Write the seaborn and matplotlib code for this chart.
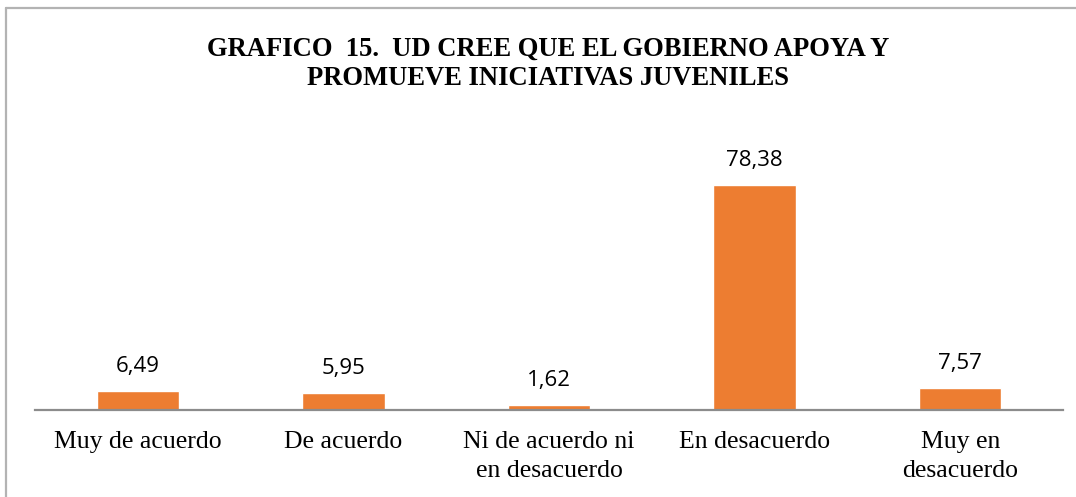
import matplotlib
matplotlib.use("Agg")
import matplotlib.pyplot as plt
import seaborn as sns
import pandas as pd
from matplotlib.lines import Line2D

categories = ["Muy de acuerdo", "De acuerdo", "Ni de acuerdo ni\nen desacuerdo",
              "En desacuerdo", "Muy en\ndesacuerdo"]
values = [6.49, 5.95, 1.62, 78.38, 7.57]
title_text = "GRAFICO  15.  UD CREE QUE EL GOBIERNO APOYA Y\nPROMUEVE INICIATIVAS JUVENILES"

sns.set_theme(style="white")

W, H = 1076, 497
fig = plt.figure(figsize=(W / 100, H / 100), dpi=100)
fig.patch.set_facecolor("white")

ax_left, ax_right = 35, 1063
ax_bottom_px, ax_top_px = 410, 151.7
ax = fig.add_axes([ax_left / W, 1 - ax_bottom_px / H,
                   (ax_right - ax_left) / W, (ax_bottom_px - ax_top_px) / H])

df = pd.DataFrame({"cat": categories, "val": values})
sns.barplot(data=df, x="cat", y="val", color="#ED7D31", saturation=1,
            width=0.40, ax=ax)
ax.set_ylim(0, 90)
ax.set_xlim(-0.5, len(categories) - 0.5)

labels = [f"{v:.2f}".replace(".", ",") for v in values]
ax.bar_label(ax.containers[0], labels=labels, padding=10,
             fontsize=16, family="Open Sans", color="#000000")

for s in ["top", "right", "left"]:
    ax.spines[s].set_visible(False)
ax.spines["bottom"].set_color("#8c8c8c")
ax.spines["bottom"].set_linewidth(1.6)
ax.set_yticks([])
ax.set_xlabel("")
ax.set_ylabel("")
ax.tick_params(axis="x", length=0, pad=15)
for t in ax.get_xticklabels():
    t.set_fontfamily("Liberation Serif")
    t.set_fontsize(18.5)
    t.set_color("#000000")
    t.set_linespacing(1.45)
ax.set_facecolor("white")

fig.text(548 / W, 1 - 64 / H, title_text, ha="center", va="center",
         fontsize=19.2, fontweight="bold", family="Liberation Serif",
         color="#000000", linespacing=1.25)

# outer chart border (top and left visible)
fig.add_artist(Line2D([5.5 / W, 5.5 / W], [1 - 7.5 / H, 0], transform=fig.transFigure,
                      color="#b3b3b3", linewidth=1.6))
fig.add_artist(Line2D([5.5 / W, 1], [1 - 7.5 / H, 1 - 7.5 / H], transform=fig.transFigure,
                      color="#b3b3b3", linewidth=1.6))

fig.savefig("out.png", dpi=100)
